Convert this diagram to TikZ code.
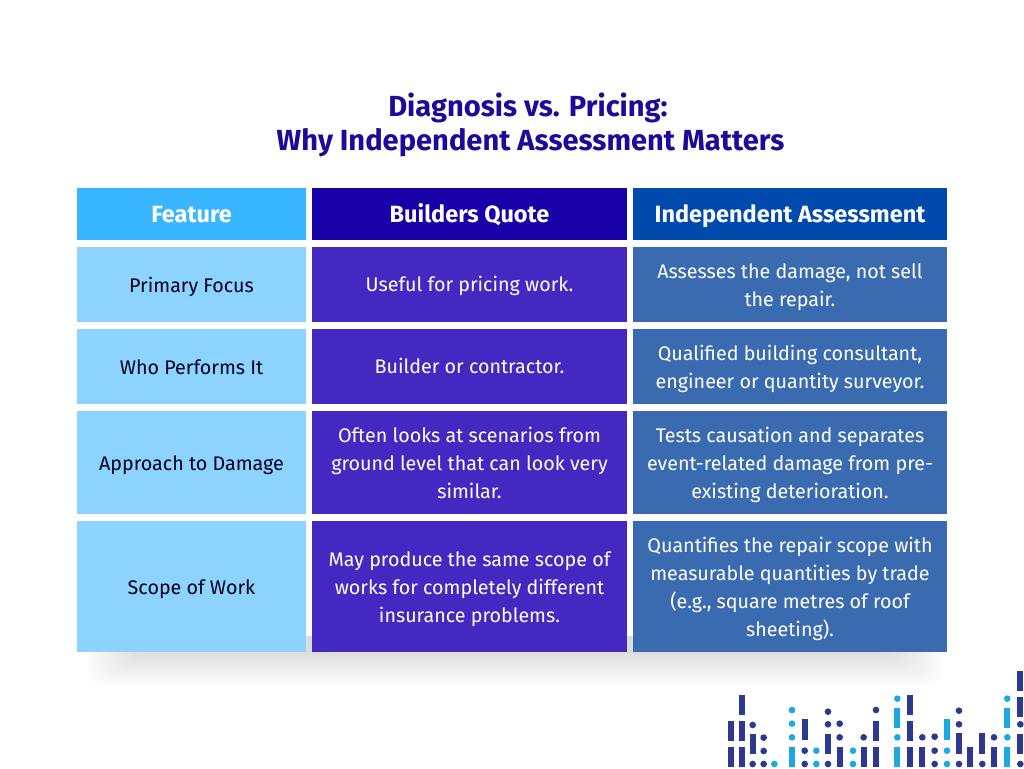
\documentclass[tikz,border=0pt]{standalone}
\usepackage{fontspec}
\setmainfont{Fira Sans}
\definecolor{hA}{HTML}{38B6FF}
\definecolor{hB}{HTML}{1800A8}
\definecolor{hC}{HTML}{004AAD}
\definecolor{rA}{HTML}{8DD3FF}
\definecolor{rB}{HTML}{4329C1}
\definecolor{rC}{HTML}{3A6BB0}
\definecolor{titlec}{HTML}{1B0A9B}
\definecolor{logoD}{HTML}{2B3990}
\definecolor{logoL}{HTML}{1CA9E0}
\tikzset{
  x=1pt,y=-1pt,
  cell/.style={inner sep=0pt,align=center,font=\fontsize{19.7}{28}\selectfont},
  head/.style={inner sep=0pt,align=center,text=white,font=\fontsize{23.5}{28}\selectfont\bfseries},
  titletxt/.style={inner sep=0pt,align=center,text=titlec,font=\fontsize{29.1}{34}\selectfont\bfseries},
}
\newcommand{\cellbox}[6]{% name, x1,y1,x2,y2, colour
  \fill[#6] (#2,#3) rectangle (#4,#5);
  \coordinate (#1) at ({(#2+#4)/2},{(#3+#5)/2});
}
\newcommand{\lbar}[4]{\fill[#1] (#2,#3) rectangle ++(18,{#4-#3});}
\newcommand{\ldot}[3]{\fill[#1] (#2+9,#3) circle (10);}
\begin{document}
\begin{tikzpicture}
\useasboundingbox (0,0) rectangle (1024,768);
\fill[white] (0,0) rectangle (1024,768);
% soft shadow under the table
\foreach \d in {0,1,...,34}{
  \fill[black,fill opacity=0.0028,rounded corners=14pt]
    ({85+1.6*\d},{636}) rectangle ({945-1.6*\d},{686-\d});
}
\fill[black!14] (306,636) rectangle (312,652);
\fill[black!14] (627,636) rectangle (633,652);
% cells
\cellbox{a0}{77}{188}{306}{240}{hA}
\cellbox{b0}{312}{188}{627}{240}{hB}
\cellbox{c0}{633}{188}{947}{240}{hC}
\cellbox{a1}{77}{247}{306}{322}{rA}
\cellbox{b1}{312}{247}{627}{322}{rB}
\cellbox{c1}{633}{247}{947}{322}{rC}
\cellbox{a2}{77}{329}{306}{404}{rA}
\cellbox{b2}{312}{329}{627}{404}{rB}
\cellbox{c2}{633}{329}{947}{404}{rC}
\cellbox{a3}{77}{411}{306}{514}{rA}
\cellbox{b3}{312}{411}{627}{514}{rB}
\cellbox{c3}{633}{411}{947}{514}{rC}
\cellbox{a4}{77}{521}{306}{652}{rA}
\cellbox{b4}{312}{521}{627}{652}{rB}
\cellbox{c4}{633}{521}{947}{652}{rC}
% title
\node[titletxt] (title) at (530.5,125) {Diagnosis vs. Pricing:\hspace*{5pt}\\Why Independent Assessment Matters};
% headers
\node[head,yshift=-1pt] (ta0) at (a0) {Feature};
\node[head,yshift=-1pt] (tb0) at (b0) {Builders Quote};
\node[head,yshift=-2pt] (tc0) at (c0) {Independent Assessment};
% rows
\node[cell,text=black!90!blue,yshift=-2pt] (ta1) at (a1) {Primary Focus};
\node[cell,text=white,yshift=-1pt] (tb1) at (b1) {Useful for pricing work.};
\node[cell,text=white,yshift=-3pt] (tc1) at (c1) {Assesses the damage, not sell\\the repair.};
\node[cell,text=black!90!blue,yshift=-1pt] (ta2) at (a2) {Who Performs It};
\node[cell,text=white,yshift=1pt] (tb2) at (b2) {Builder or contractor.};
\node[cell,text=white,yshift=-2pt] (tc2) at (c2) {Qualified building consultant,\\engineer or quantity surveyor.};
\node[cell,text=black!90!blue,yshift=-3pt] (ta3) at (a3) {Approach to Damage};
\node[cell,text=white] (tb3) at (b3) {Often looks at scenarios from\\ground level that can look very\\similar.};
\node[cell,text=white,yshift=-2pt] (tc3) at (c3) {Tests causation and separates\\event-related damage from pre-\\existing deterioration.};
\node[cell,text=black!90!blue,yshift=-3pt] (ta4) at (a4) {Scope of Work};
\node[cell,text=white,yshift=-3pt] (tb4) at (b4) {May produce the same scope of\\works for completely different\\insurance problems.};
\node[cell,text=white,yshift=-2pt] (tc4) at (c4) {Quantifies the repair scope with\\measurable quantities by trade\\(e.g., square metres of roof\\sheeting).};
% logo
\begin{scope}[shift={(710,660)},x=0.3333pt,y=-0.3333pt]
\foreach \x/\a/\b in {55/182/242,55/260/322,87/104/165,87/182/242,87/260/322,119/222/283,275/178/240,345/222/283,380/260/322,452/260/322,489/182/242,489/260/322,590/104/165,590/182/242,590/260/322,628/260/322,738/220/281,772/260/322,808/220/281,843/260/322,922/32/93,922/110/171,922/222/283}
  {\lbar{logoD}{\x}{\a}{\b}}
\foreach \x/\a/\b in {237/260/322,553/144/205,553/260/322,702/178/240,883/144/205,883/260/322}
  {\lbar{logoL}{\x}{\a}{\b}}
\foreach \x/\y in {119/195,119/312,152/233,152/273,152/312,275/272,275/312,345/155,345/193,345/312,380/191,380/232,452/232,489/150,628/232,665/230,665/272,665/312,738/152,738/193,738/312,808/312,843/232,922/193,922/312}
  {\ldot{logoD}{\x}{\y}}
\foreach \x/\y in {184/312,237/150,237/191,237/232,310/272,310/312,420/272,420/312,553/116,553/232,702/272,702/312,883/116,883/232}
  {\ldot{logoL}{\x}{\y}}
\end{scope}
\end{tikzpicture}
\end{document}
